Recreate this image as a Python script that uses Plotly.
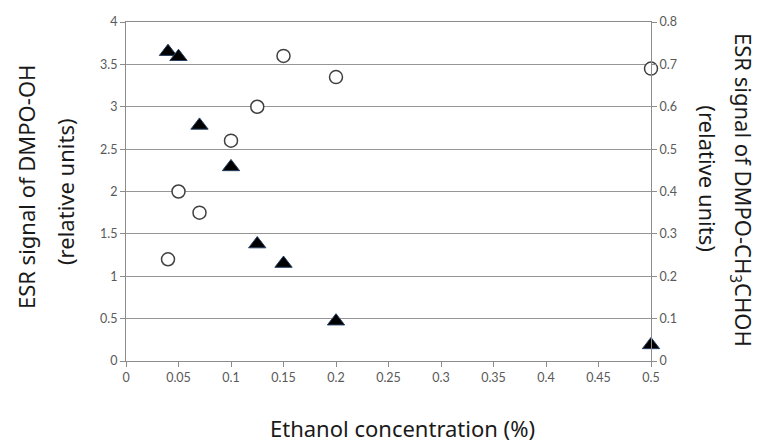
import plotly.graph_objects as go

# ethanol concentration (%)
ethanol = [0.04, 0.05, 0.07, 0.1, 0.125, 0.15, 0.2, 0.5]
# ESR signal of DMPO-OH (left axis)
dmpo_oh = [3.65, 3.59, 2.78, 2.29, 1.38, 1.15, 0.47, 0.19]
# ESR signal of DMPO-CH3CHOH (right axis)
dmpo_ch3choh = [0.24, 0.40, 0.35, 0.52, 0.60, 0.72, 0.67, 0.69]

left_ticks = [0, 0.5, 1, 1.5, 2, 2.5, 3, 3.5, 4]
right_ticks = [0, 0.1, 0.2, 0.3, 0.4, 0.5, 0.6, 0.7, 0.8]
x_ticks = [0, 0.05, 0.1, 0.15, 0.2, 0.25, 0.3, 0.35, 0.4, 0.45, 0.5]

W, H = 761, 444
L, R, T, B = 118, 118, 6, 91
tick_font = dict(family="Lato, sans-serif", size=12.5, color="#595959")
title_font = dict(family="Noto Sans, Open Sans, sans-serif", size=22, color="#1a1a1a")


def px_x(p):
    return (p - L) / (W - L - R)


def px_y(p):
    return (H - B - p) / (H - T - B)


fig = go.Figure()
fig.add_trace(go.Scatter(
    x=ethanol, y=dmpo_oh, mode="markers", name="DMPO-OH", cliponaxis=False,
    marker=dict(symbol="triangle-up", size=15, color="black",
                line=dict(color="#243f60", width=1)),
))
fig.add_trace(go.Scatter(
    x=ethanol, y=dmpo_ch3choh, mode="markers", name="DMPO-CH3CHOH", yaxis="y2",
    cliponaxis=False,
    marker=dict(symbol="circle", size=13, color="white",
                line=dict(color="#404040", width=1.5)),
))

axis_common = dict(showline=True, linecolor="#8c8c8c", linewidth=1,
                   ticks="outside", ticklen=5, tickcolor="#8c8c8c",
                   tickfont=tick_font, zeroline=False, ticklabeloverflow="allow")

fig.update_layout(
    width=W, height=H,
    margin=dict(l=L, r=R, t=T, b=B),
    paper_bgcolor="white", plot_bgcolor="white",
    showlegend=False,
    xaxis=dict(range=[0, 0.5], tickvals=x_ticks, ticktext=[f"{v:g}" for v in x_ticks],
               showgrid=False, mirror=True, **axis_common),
    yaxis=dict(range=[0, 4], tickvals=left_ticks, ticktext=[f"{v:g}" for v in left_ticks],
               showgrid=True, gridcolor="#969696", gridwidth=1, **axis_common),
    yaxis2=dict(range=[0, 0.8], tickvals=right_ticks,
                ticktext=[f"{v:g}" for v in right_ticks],
                overlaying="y", side="right", showgrid=False, **axis_common),
)

titles = [
    ("ESR signal of DMPO-OH", 18, 175, -90),
    ("(relative units)", 57, 180, -90),
    ("ESR signal of DMPO-CH<sub>3</sub>CHOH", 734, 178, 90),
    ("(relative units)", 700, 166, 90),
    ("Ethanol concentration (%)", 394, 422, 0),
]
for text, x, y, ang in titles:
    fig.add_annotation(text=text, xref="paper", yref="paper",
                       x=px_x(x), y=px_y(y), xanchor="center", yanchor="middle",
                       showarrow=False, textangle=ang, font=title_font)

fig.write_html("out.html")
